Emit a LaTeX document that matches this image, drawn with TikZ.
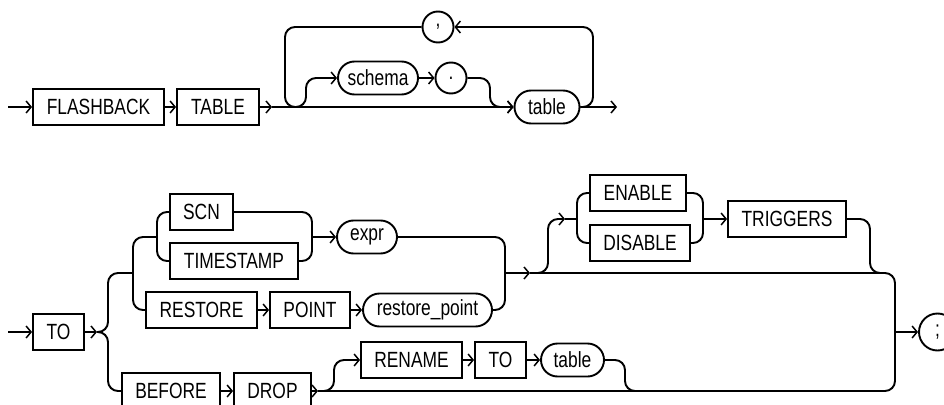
\documentclass[tikz,border=0pt]{standalone}
\usepackage{fontspec}
\setmainfont[FakeStretch=0.79]{Liberation Sans}
\usepackage{tikz}
\usetikzlibrary{positioning,arrows.meta,calc,shapes.misc}

\begin{document}
\begin{tikzpicture}[
		x=1pt, y=-1pt,
		font=\fontsize{22}{26}\selectfont,
		line width=1.9pt,
		kw/.style={draw, rectangle, minimum height=36pt, inner sep=0pt},
		ident/.style={draw, rounded rectangle, minimum height=33pt, inner sep=0pt},
		sym/.style={draw, circle, minimum size=31pt, inner sep=0pt},
		arr/.style={-{Straight Barb[length=5pt, width=12pt, line width=1.5pt]}},
		rc/.style={rounded corners=10pt}
		]
		\useasboundingbox (0,0) rectangle (944,404);
		% first statement line
		\node[kw, minimum width=131pt] (flashback) at (98.5,107) {FLASHBACK};
		\node[kw, minimum width=82pt] (table) at (218,107) {TABLE};
		\node[ident, minimum width=80pt] (schema) at (378,78) {schema};
		\node[sym] (dot) at (451,78) {.};
		\node[ident, minimum width=65pt] (tbl) at (547,107) {table};
		\node[sym] (comma) at (438,27) {,};
		\coordinate (in1) at (8,107);
		\coordinate (j1) at (272,107);
		\coordinate (out1) at (617,107);
		\coordinate (loopL) at (285,107);
		\coordinate (loopR) at (593,107);
		\coordinate (brA) at (290,107);
		\coordinate (sUp) at (306,107);
		\coordinate (dDn) at (490,107);
		\draw[arr] (in1) -- (flashback);
		\draw[arr] (flashback) -- (table);
		\draw[arr] (table) -- (j1);
		\draw[arr] (j1) -- (tbl);
		\draw[arr] (tbl) -- (out1);
		\draw[arr, rc] (tbl.east) -- (loopR) |- (comma.east);
		\draw[rc] (comma.west) -| (loopL) -- (sUp);
		\draw[arr, rc] (brA) -- (sUp) |- (schema.west);
		\draw[arr] (schema) -- (dot);
		\draw[arr, rc] (dot.east) -| (dDn) -- (tbl.west);
		% second statement line
		\node[kw, minimum width=51pt] (to) at (58.5,332) {TO};
		\node[kw, minimum width=63pt] (scn) at (201.5,212) {SCN};
		\node[kw, minimum width=128pt] (timestamp) at (234,261) {TIMESTAMP};
		\node[ident, minimum width=60pt] (expr) at (367,237) {expr};
		\node[kw, minimum width=111pt] (restore) at (201.5,310) {RESTORE};
		\node[kw, minimum width=80pt] (point) at (310,310) {POINT};
		\node[ident, minimum width=129pt] (rpoint) at (427.5,310) {restore\_point};
		\node[kw, minimum width=96pt] (enable) at (638,193) {ENABLE};
		\node[kw, minimum width=100pt] (disable) at (640,243) {DISABLE};
		\node[kw, minimum width=118pt] (triggers) at (787,219) {TRIGGERS};
		\node[kw, minimum width=98pt] (before) at (171,391) {BEFORE};
		\node[kw, minimum width=77pt] (drop) at (272.5,391) {DROP};
		\node[kw, minimum width=101pt] (rename) at (411.5,360) {RENAME};
		\node[kw, minimum width=51pt] (to2) at (500.5,360) {TO};
		\node[ident, minimum width=63pt] (tbl2) at (572.5,360) {table};
		\node[sym, minimum size=37pt] (semi) at (937.5,332) {;};
		\coordinate (in2) at (8,332);
		\coordinate (j2) at (97,332);
		\coordinate (fork) at (108,332);
		\coordinate (up1) at (133,273);
		\coordinate (g1) at (157,237);
		\coordinate (g2) at (312,237);
		\coordinate (m1) at (505,273);
		\coordinate (j3) at (530,273);
		\coordinate (eA) at (537,273);
		\coordinate (eB) at (548,273);
		\coordinate (j4) at (565,219);
		\coordinate (g3) at (577,219);
		\coordinate (g4) at (703,219);
		\coordinate (tB) at (870,273);
		\coordinate (tC) at (885,273);
		\coordinate (sj) at (895,332);
		\coordinate (j5) at (318,391);
		\coordinate (rA) at (322,391);
		\coordinate (rB) at (334,391);
		\coordinate (rC) at (625,391);
		\coordinate (rD) at (640,391);
		\draw[arr] (in2) -- (to);
		\draw[arr] (to) -- (j2);
		\draw[rc] (j2) -- (fork) |- (up1);
		\draw[rc] (j2) -- (fork) |- (before.west);
		\draw[rc] (up1) |- (g1);
		\draw[rc] (up1) |- (restore.west);
		\draw[rc] (g1) |- (scn.west);
		\draw[rc] (g1) |- (timestamp.west);
		\draw[rc] (scn.east) -| (g2);
		\draw[rc] (timestamp.east) -| (g2);
		\draw[arr] (g2) -- (expr);
		\draw[arr] (restore) -- (point);
		\draw[arr] (point) -- (rpoint);
		\draw[rc] (expr.east) -| (m1);
		\draw[rc] (rpoint.east) -| (m1);
		\draw[arr] (m1) -- (j3);
		\draw[rc] (j3) -| (sj);
		\draw[arr, rc] (eA) -- (eB) |- (j4);
		\draw (j4) -- (g3);
		\draw[rc] (g3) |- (enable.west);
		\draw[rc] (g3) |- (disable.west);
		\draw[rc] (enable.east) -| (g4);
		\draw[rc] (disable.east) -| (g4);
		\draw[arr] (g4) -- (triggers);
		\draw[rc] (triggers.east) -| (tB) -- (tC);
		\draw[arr] (before) -- (drop);
		\draw[arr] (drop) -- (j5);
		\draw[rc] (j5) -| (sj);
		\draw[arr, rc] (rA) -- (rB) |- (rename.west);
		\draw[arr] (rename) -- (to2);
		\draw[arr] (to2) -- (tbl2);
		\draw[rc] (tbl2.east) -| (rC) -- (rD);
		\draw[arr] (sj) -- (semi);
	\end{tikzpicture}
\end{document}
